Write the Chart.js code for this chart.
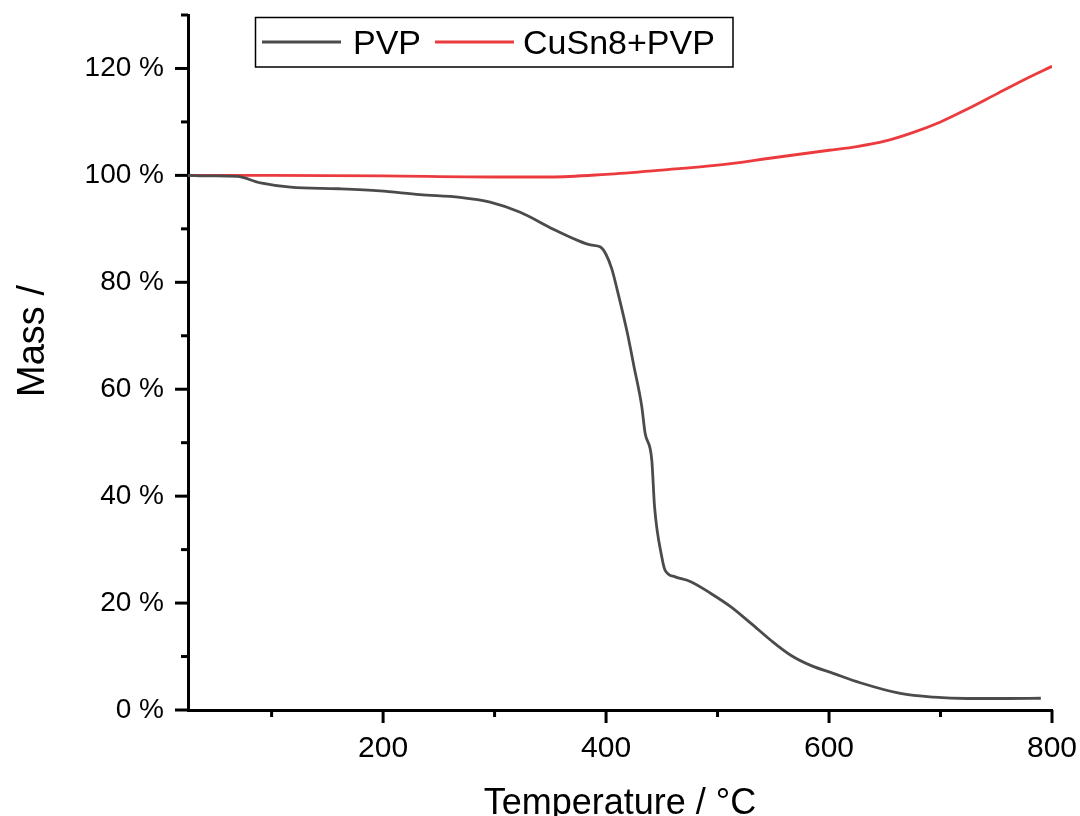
<!DOCTYPE html>
<html>
<head>
<meta charset="utf-8">
<script src="https://cdn.jsdelivr.net/npm/chart.js@4.4.1/dist/chart.umd.min.js"></script>
<style>
  html, body { margin: 0; padding: 0; background: #fff; }
  #wrap { width: 1080px; height: 816px; }
</style>
</head>
<body>
<div id="wrap"><canvas id="chart" width="1080" height="816"></canvas></div>
<script>
// data
const pvpTemp = [25, 45, 69, 90, 117, 160, 197, 233, 269, 296, 323, 353, 375, 386, 395, 400, 405, 410, 419, 425, 432, 435, 441, 443.5, 450, 453, 462, 476, 494, 512, 530, 548, 566, 584, 602, 628, 664, 694, 724, 760, 790]
const pvpMass = [100, 99.9, 99.8, 98.6, 97.8, 97.5, 97.1, 96.4, 95.9, 95.0, 93.1, 89.9, 87.8, 87.0, 86.6, 85.2, 82.6, 78.6, 70.6, 64.3, 56.8, 51.8, 46.8, 38.0, 28.6, 26.1, 24.9, 24.0, 21.8, 19.3, 16.2, 13.0, 10.2, 8.3, 7.0, 5.1, 3.1, 2.4, 2.15, 2.15, 2.2]

const cuTemp = [25, 100, 200, 300, 350, 400, 450, 500, 550, 600, 625, 650, 675, 700, 725, 750, 775, 800]
const cuMass = [100, 100, 99.9, 99.7, 99.7, 100.2, 101.0, 101.9, 103.3, 104.7, 105.4, 106.4, 108.0, 110.0, 112.5, 115.2, 117.9, 120.4]

const seriesNames = ["PVP", "CuSn8+PVP"]
const seriesColors = ["#4b4b4b", "#ec3b3f"]

const xTitle = "Temperature / °C"
const yTitle = "Mass /"

const FONT = "'Liberation Sans', Arial, sans-serif"

function toPoints(xs, ys){
  return xs.map((x, i) => ({x: x, y: ys[i]}))
}

// outward major/minor tick marks, drawn from the scales' own ticks
const tickMarks = {
  id: "tickMarks",
  afterDraw(chart){
    const ctx = chart.ctx
    const xs = chart.scales.x, ys = chart.scales.y
    const area = chart.chartArea
    ctx.save()
    ctx.strokeStyle = "#000"
    ctx.lineWidth = 3
    ctx.lineCap = "butt"
    xs.ticks.forEach(t => {
      let len = 0
      if (t.value % 200 === 0) len = 13
      else if (t.value % 100 === 0) len = 7
      if (!len) return
      const px = xs.getPixelForValue(t.value)
      ctx.beginPath()
      ctx.moveTo(px, area.bottom)
      ctx.lineTo(px, area.bottom + len)
      ctx.stroke()
    })
    ys.ticks.forEach(t => {
      const len = t.value % 20 === 0 ? 13 : 7
      const py = ys.getPixelForValue(t.value)
      ctx.beginPath()
      ctx.moveTo(area.left, py)
      ctx.lineTo(area.left - len, py)
      ctx.stroke()
    })
    ctx.restore()
  }
}

// boxed legend inside the plot + axis titles
const decorations = {
  id: "decorations",
  afterDraw(chart){
    const ctx = chart.ctx
    ctx.save()
    // legend box
    ctx.strokeStyle = "#000"
    ctx.lineWidth = 1.5
    ctx.strokeRect(255.5, 17.5, 477.5, 49.5)
    const sampleX = [262, 435]
    const textX = [353, 523]
    ctx.font = "34px " + FONT
    ctx.textBaseline = "alphabetic"
    ctx.textAlign = "left"
    chart.data.datasets.forEach((ds, i) => {
      ctx.strokeStyle = ds.borderColor
      ctx.lineWidth = 2.8
      ctx.beginPath()
      ctx.moveTo(sampleX[i], 42)
      ctx.lineTo(sampleX[i] + 79, 42)
      ctx.stroke()
      ctx.fillStyle = "#000"
      ctx.fillText(ds.label, textX[i], 54)
    })
    // x title
    const area = chart.chartArea
    ctx.font = "36px " + FONT
    ctx.textAlign = "center"
    ctx.fillText(xTitle, (area.left + area.right) / 2, 814)
    // y title
    ctx.translate(44, 341)
    ctx.rotate(-Math.PI / 2)
    ctx.font = "38px " + FONT
    ctx.fillText(yTitle, 0, 0)
    ctx.restore()
  }
}

const ctx = document.getElementById("chart")

new Chart(ctx, {
  type: "line",
  data: {
    datasets: [
      {
        label: seriesNames[0],
        data: toPoints(pvpTemp, pvpMass),
        borderColor: seriesColors[0],
        borderWidth: 2.8,
        pointRadius: 0,
        cubicInterpolationMode: "monotone",
        fill: false
      },
      {
        label: seriesNames[1],
        data: toPoints(cuTemp, cuMass),
        borderColor: seriesColors[1],
        borderWidth: 2.8,
        pointRadius: 0,
        cubicInterpolationMode: "monotone",
        fill: false
      }
    ]
  },
  options: {
    responsive: false,
    animation: false,
    devicePixelRatio: 1,
    layout: { padding: { top: 15, right: 28, left: 0, bottom: 0 } },
    plugins: {
      legend: { display: false },
      tooltip: { enabled: false }
    },
    scales: {
      x: {
        type: "linear",
        min: 25,
        max: 800,
        afterFit: s => { s.height = 106; s.paddingLeft = 0; s.paddingRight = 0 },
        grid: { display: false, drawTicks: false },
        border: { display: true, color: "#000", width: 3 },
        ticks: {
          stepSize: 100,
          autoSkip: false,
          maxRotation: 0,
          padding: 21,
          color: "#000",
          font: { family: FONT, size: 30 },
          callback: v => (v % 200 === 0 ? String(v) : "")
        }
      },
      y: {
        type: "linear",
        min: 0,
        max: 130,
        afterFit: s => { s.width = 188; s.paddingTop = 0; s.paddingBottom = 0 },
        grid: { display: false, drawTicks: false },
        border: { display: true, color: "#000", width: 3 },
        ticks: {
          stepSize: 10,
          autoSkip: false,
          padding: 24,
          color: "#000",
          font: { family: FONT, size: 28 },
          callback: v => (v % 20 === 0 ? v + " %" : "")
        }
      }
    }
  },
  plugins: [tickMarks, decorations]
})
</script>
</body>
</html>
